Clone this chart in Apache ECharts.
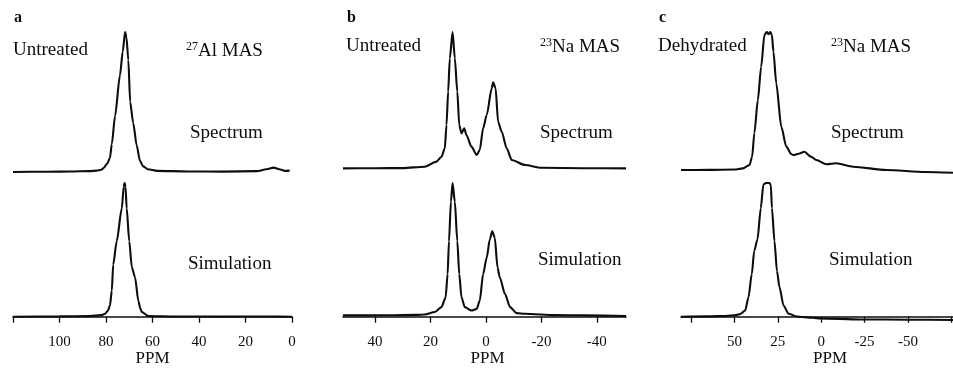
<!DOCTYPE html>
<html>
<head>
<meta charset="utf-8">
<script src="https://cdn.jsdelivr.net/npm/echarts@6/dist/echarts.min.js"></script>
<style>
  html, body { margin: 0; padding: 0; background: #fff; }
  #nmr { width: 953px; height: 368px; }
</style>
</head>
<body>
<div id="nmr"></div>
<script>
// traces: [ppm, relative intensity]
var specA = [[120, 0.0], [105, 0.002], [95, 0.004], [87, 0.006], [84, 0.01], [82, 0.016], [81, 0.029], [79.5, 0.06],
  [78.3, 0.1], [77.5, 0.2], [76.1, 0.4], [74, 0.69], [72.8, 0.86], [71.8, 1.0], [71.2, 0.96], [70.4, 0.8],
  [69.6, 0.5], [68.3, 0.35], [66.8, 0.19], [65.4, 0.08], [64, 0.04], [62, 0.02], [58, 0.008], [45, 0.004],
  [30, 0.003], [15, 0.006], [11, 0.02], [8, 0.031], [5, 0.018], [3, 0.008], [1, 0.01]];
var simA = [[120, 0.0], [100, 0.003], [87, 0.005], [82, 0.012], [80.4, 0.022], [79.2, 0.045], [78.3, 0.084],
  [77.5, 0.195], [76.9, 0.39], [75.4, 0.565], [73.2, 0.81], [72.4, 0.97], [72.0, 1.0], [71.6, 0.97], [71.1, 0.81],
  [70.0, 0.565], [68.9, 0.37], [67.5, 0.294], [66.1, 0.12], [65.2, 0.06], [64.6, 0.035], [61.8, 0.006], [50, 0.002],
  [30, 0.001], [10, 0.002], [0, 0.0]];
var specB = [[51.5, 0.026], [40, 0.027], [30, 0.028], [22, 0.038], [17.8, 0.074], [16.0, 0.109], [14.8, 0.169],
  [14.2, 0.336], [13.6, 0.574], [13.0, 0.812], [12.0, 1.0], [11.2, 0.812], [10.3, 0.574], [9.6, 0.336], [8.8, 0.276],
  [7.8, 0.312], [7.0, 0.264], [5.2, 0.181], [3.3, 0.121], [2.2, 0.157], [1.0, 0.312], [-0.3, 0.407], [-2.1, 0.598],
  [-2.6, 0.641], [-3.5, 0.598], [-4.4, 0.359], [-5.7, 0.288], [-7.5, 0.169], [-9.3, 0.086], [-14.1, 0.05],
  [-20, 0.03], [-35, 0.027], [-50.5, 0.026]];
var simB = [[51.5, 0.01], [35, 0.011], [25, 0.014], [22, 0.017], [18.4, 0.035], [16.0, 0.072], [14.5, 0.146],
  [13.8, 0.319], [13.3, 0.565], [12.6, 0.861], [12.0, 1.0], [11.2, 0.861], [10.3, 0.565], [9.6, 0.319], [8.8, 0.146],
  [7.6, 0.072], [5.2, 0.047], [3.3, 0.059], [2.2, 0.121], [1.0, 0.319], [-0.3, 0.442], [-1.4, 0.578], [-2.3, 0.639],
  [-3.2, 0.59], [-4.2, 0.368], [-5.0, 0.294], [-6.9, 0.17], [-8.7, 0.072], [-11.1, 0.027], [-14.1, 0.022],
  [-25, 0.012], [-35, 0.01], [-50.5, 0.006]];
var specC = [[80.8, 0.014], [65, 0.015], [50, 0.018], [45.1, 0.026], [41.3, 0.05], [39.8, 0.109], [38.5, 0.279],
  [36.5, 0.514], [34.6, 0.752], [32.7, 0.98], [31.3, 1.0], [30.4, 0.984], [29.4, 1.0], [28.4, 0.979], [27.5, 0.859],
  [25.9, 0.636], [23.0, 0.324], [20.1, 0.181], [17.3, 0.129], [16.1, 0.121], [13, 0.13], [9.6, 0.145], [6, 0.11],
  [2.8, 0.086], [-3.0, 0.055], [-8.7, 0.062], [-18.4, 0.038], [-37.6, 0.014], [-60, 0.0], [-76, -0.005]];
var simC = [[80.8, 0.0], [65, 0.003], [55, 0.006], [49, 0.012], [46.7, 0.02], [43.8, 0.047], [41.9, 0.146],
  [40.0, 0.319], [38.6, 0.491], [36.7, 0.58], [34.8, 0.813], [33.3, 0.99], [31.7, 1.0], [30.5, 1.0], [29.8, 1.0],
  [29.0, 0.985], [28.4, 0.813], [26.9, 0.565], [25.5, 0.343], [24.0, 0.22], [21.7, 0.084], [18.8, 0.022],
  [14.0, 0.002], [5, -0.008], [0.5, -0.012], [-22.6, -0.02], [-50, -0.022], [-76, -0.024]];

// axis ticks and labels
var ticksA = [120, 100, 80, 60, 40, 20, 0];
var labelsA = [100, 80, 60, 40, 20, 0];
var ticksB = [40, 20, 0, -20, -40];
var labelsB = [40, 20, 0, -20, -40];
var ticksC = [75, 50, 25, 0, -25, -50, -75];
var labelsC = [50, 25, 0, -25, -50];

var panelLetters = ['a', 'b', 'c'];
var sampleNames = ['Untreated', 'Untreated', 'Dehydrated'];
var nucleusMass = ['27', '23', '23'];
var nucleusName = ['Al MAS', 'Na MAS', 'Na MAS'];
var traceNames = ['Spectrum', 'Simulation'];

document.addEventListener('DOMContentLoaded', function () {
  var chart = echarts.init(document.getElementById('nmr'), null, { renderer: 'canvas' });
  var FONT = '"Liberation Serif", "DejaVu Serif", serif';
  var INK = '#0d0d0d';

  // layout for each panel (pixels)
  var panels = [
    { left: 13, width: 279, max: 120, min: 0, ticks: ticksA, labels: labelsA, spec: specA, sim: simA,
      tx: 13, nx: 186, sx: 190, simY: 255, nameShift: 0 },
    { left: 343, width: 283, max: 51.5, min: -50.5, ticks: ticksB, labels: labelsB, spec: specB, sim: simB,
      tx: 346, nx: 540, sx: 540, simY: 251, nameShift: 6 },
    { left: 681, width: 272, max: 80.8, min: -76, ticks: ticksC, labels: labelsC, spec: specC, sim: simC,
      tx: 658, nx: 831, sx: 831, simY: 251, nameShift: 26 }
  ];

  var grids = [], xAxes = [], yAxes = [], series = [], graphics = [];

  panels.forEach(function (p, i) {
    // top grid: measured spectrum, bottom grid: simulation with the ppm axis
    grids.push({ left: p.left, width: p.width, top: 32, height: 147 });
    grids.push({ left: p.left, width: p.width, top: 183, height: 140.4 });

    xAxes.push({ gridIndex: 2 * i, type: 'value', min: p.min, max: p.max, inverse: true, show: false });
    xAxes.push({
      gridIndex: 2 * i + 1, type: 'value', min: p.min, max: p.max, inverse: true,
      axisLine: { show: true, lineStyle: { color: INK, width: 1.6 } },
      axisTick: { show: true, customValues: p.ticks, length: 6, lineStyle: { color: INK, width: 1.3 } },
      axisLabel: { customValues: p.labels, color: INK, fontFamily: FONT, fontSize: 15, margin: 12 },
      splitLine: { show: false },
      name: 'PPM', nameLocation: 'middle', nameGap: 26,
      nameTextStyle: { color: INK, fontFamily: FONT, fontSize: 17, padding: [0, 0, 0, p.nameShift] }
    });

    yAxes.push({ gridIndex: 2 * i, type: 'value', min: -0.05, max: 1, show: false });
    yAxes.push({ gridIndex: 2 * i + 1, type: 'value', min: -0.04, max: 1, show: false });

    [p.spec, p.sim].forEach(function (d, k) {
      series.push({
        name: traceNames[k] + ' ' + panelLetters[i],
        type: 'line', xAxisIndex: 2 * i + k, yAxisIndex: 2 * i + k,
        data: d, showSymbol: false, symbol: 'none', silent: true,
        smooth: 0.25, smoothMonotone: 'x',
        lineStyle: { color: INK, width: 2.1 }
      });
    });

    graphics.push({ type: 'text', left: p.tx + 1, top: 10,
      style: { text: panelLetters[i], font: 'bold 16px ' + FONT, fill: INK } });
    graphics.push({ type: 'text', left: p.tx, top: i === 0 ? 41 : 37,
      style: { text: sampleNames[i], font: '19px ' + FONT, fill: INK } });
    graphics.push({ type: 'text', left: p.nx, top: i === 0 ? 41 : 37,
      style: {
        text: '{s|' + nucleusMass[i] + '}{n|' + nucleusName[i] + '}', fill: INK,
        rich: {
          s: { fontFamily: FONT, fontSize: 12, lineHeight: 12, verticalAlign: 'top', fill: INK },
          n: { fontFamily: FONT, fontSize: 19, lineHeight: 20, fill: INK }
        }
      } });
    graphics.push({ type: 'text', left: p.sx, top: 124,
      style: { text: traceNames[0], font: '19px ' + FONT, fill: INK } });
    graphics.push({ type: 'text', left: p.sx - 2, top: p.simY,
      style: { text: traceNames[1], font: '19px ' + FONT, fill: INK } });
  });

  var option = {
    backgroundColor: '#fff',
    animation: false,
    grid: grids,
    xAxis: xAxes,
    yAxis: yAxes,
    series: series,
    graphic: graphics
  };

  chart.setOption(option);
});
</script>
</body>
</html>
